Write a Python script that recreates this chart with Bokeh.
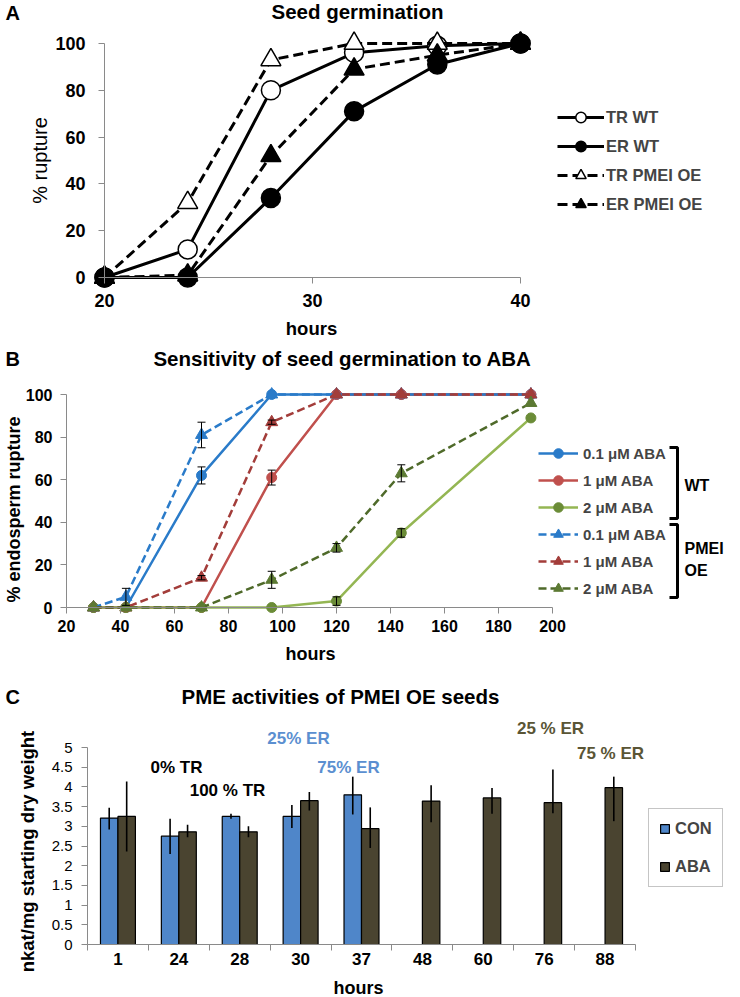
import math
from bokeh.plotting import figure
from bokeh.layouts import column
from bokeh.models import (Range1d, LinearAxis, FixedTicker, Legend, LegendItem, Label,
                          ColumnDataSource, Whisker, TeeHead)
from bokeh.embed import file_html
from bokeh.resources import INLINE

FONT = "Liberation Sans"
W = 740
NAN = float("nan")

# ---------------- Panel A data ----------------
a_hours = [20, 24, 28, 32, 36, 40]
a_tr_wt = [0, 12, 80, 96, 99, 100]
a_er_wt = [0, 0, 34, 71, 91, 100]
a_tr_oe = [0, 32, 93, 100, 100, 100]
a_er_oe = [0, 1, 52, 89, 95, 100]
a_xticks = [20, 30, 40]
a_yticks = [0, 20, 40, 60, 80, 100]

# ---------------- Panel B data ----------------
b_hours = [30, 42, 70, 96, 120, 144, 192]
b_wt_01 = [0, 0, 62, 100, 100, 100, 100]
b_wt_1 = [0, 0, 0, 61, 100, 100, 100]
b_wt_2 = [0, 0, 0, 0, 3, 35, 89]
b_oe_01 = [0, 5, 81, 100, 100, 100, 100]
b_oe_1 = [0, 0, 14, 87, 100, 100, 100]
b_oe_2 = [0, 0, 0, 13, 28, 63, 96]
b_err_wt_01 = [0, 0, 4, 0, 0, 0, 0]
b_err_wt_1 = [0, 0, 0, 3.5, 0, 0, 0]
b_err_wt_2 = [0, 0, 0, 0, 2, 2, 0]
b_err_oe_01 = [0, 4, 6, 0, 0, 0, 0]
b_err_oe_1 = [0, 0, 1, 1, 0, 0, 0]
b_err_oe_2 = [0, 0, 0, 4, 2, 4, 0]
b_xticks = [20, 40, 60, 80, 100, 120, 140, 160, 180, 200]
b_yticks = [0, 20, 40, 60, 80, 100]

# ---------------- Panel C data ----------------
c_hours = ["1", "24", "28", "30", "37", "48", "60", "76", "88"]
c_con = [3.21, 2.75, 3.25, 3.25, 3.80, NAN, NAN, NAN, NAN]
c_con_lo = [2.92, 2.30, 3.19, 2.96, 3.30, NAN, NAN, NAN, NAN]
c_con_hi = [3.47, 3.19, 3.32, 3.54, 4.26, NAN, NAN, NAN, NAN]
c_aba = [3.25, 2.86, 2.86, 3.65, 2.94, 3.64, 3.72, 3.60, 3.98]
c_aba_lo = [2.36, 2.72, 2.72, 3.40, 2.45, 3.10, 3.32, 3.33, 3.13]
c_aba_hi = [4.14, 3.04, 3.00, 3.87, 3.48, 4.04, 3.97, 4.44, 4.26]
c_yticks = [0, 0.5, 1, 1.5, 2, 2.5, 3, 3.5, 4, 4.5, 5]
c_ytick_labels = ["0", "0.5", "1", "1.5", "2", "2.5", "3", "3.5", "4", "4.5", "5"]

AXIS_GRAY = "#8a8a8a"


def make_fig(page_top, height, x0v, x0p, x1v, x1p, y0v, y0p, y1v, y1p):
    """Figure whose frame fills the whole canvas; values map to page pixels."""
    kx = (x1v - x0v) / (x1p - x0p)
    xmin = x0v - x0p * kx
    xmax = xmin + W * kx
    ky = (y1v - y0v) / (y0p - y1p)
    ymax = y1v + (y1p - page_top) * ky
    ymin = ymax - height * ky
    p = figure(width=W, height=height, x_range=Range1d(xmin, xmax),
               y_range=Range1d(ymin, ymax), output_backend="svg",
               toolbar_location=None, min_border=0, x_axis_type=None,
               y_axis_type=None, outline_line_color=None,
               background_fill_color="white", border_fill_color="white")

    def X(px):
        return xmin + px * kx

    def Y(py):
        return ymax - (py - page_top) * ky
    return p, X, Y


def add_axis(p, side, loc, bounds, ticker, size, style="bold", standoff=8,
             tick_out=6, minor_out=0, overrides=None, line=True):
    ax = LinearAxis(fixed_location=loc, bounds=bounds, ticker=ticker,
                    axis_line_color=AXIS_GRAY if line else None, axis_line_width=1,
                    major_tick_line_color=AXIS_GRAY if tick_out else None,
                    major_tick_out=tick_out, major_tick_in=0,
                    minor_tick_line_color=AXIS_GRAY if minor_out else None,
                    minor_tick_out=minor_out, minor_tick_in=0,
                    major_label_text_font=FONT, major_label_text_font_size=size,
                    major_label_text_font_style=style, major_label_text_color="black",
                    major_label_standoff=standoff)
    if overrides is not None:
        ax.major_label_overrides = overrides
    p.add_layout(ax, side)
    return ax


def lab(p, x, y, text, size, style="bold", align="center", angle=0, color="black"):
    p.add_layout(Label(x=x, y=y, text=text, text_font=FONT, text_font_size=size,
                       text_font_style=style, text_align=align, text_baseline="middle",
                       angle=angle, text_color=color))


# ======================= Panel A =======================
A_TOP, A_H = 0, 340
pa, XA, YA = make_fig(A_TOP, A_H, 20, 104, 40, 520, 0, 277, 100, 43)
add_axis(pa, "left", 20, (0, 100), FixedTicker(ticks=a_yticks), "18px", standoff=13)
add_axis(pa, "below", 0, (20, 40), FixedTicker(ticks=a_xticks), "18px", standoff=10)

a_items = []
a_specs = [("TR WT", a_tr_wt, "circle", "white", "solid"),
           ("ER WT", a_er_wt, "circle", "black", "solid"),
           ("TR PMEI OE", a_tr_oe, "triangle", "white", "10 5"),
           ("ER PMEI OE", a_er_oe, "triangle", "black", "10 5")]
for name, vals, mk, fill, dash in a_specs:
    src = ColumnDataSource(dict(x=a_hours, y=vals))
    ln = pa.line("x", "y", source=src, line_color="black", line_width=3, line_dash=dash)
    sc = pa.scatter("x", "y", source=src, marker=mk, size=19 if mk == "circle" else 20,
                    fill_color=fill, line_color="black", line_width=1.5)
    a_items.append(LegendItem(label=name, renderers=[ln, sc]))

leg_a = Legend(items=a_items, location=(557, A_TOP + A_H - 217),
               glyph_width=47, glyph_height=26, label_height=26, spacing=3,
               padding=0, margin=0, border_line_color=None, background_fill_alpha=0,
               label_text_font=FONT, label_text_font_style="bold",
               label_text_font_size="16.5px", label_standoff=2)
pa.add_layout(leg_a)

lab(pa, XA(5), YA(12), "A", "20px", align="left")
lab(pa, XA(357), YA(11), "Seed germination", "20.5px")
lab(pa, XA(39), YA(160), "% rupture", "20px", style="normal", angle=math.pi / 2)
lab(pa, XA(311), YA(328), "hours", "18.5px")

# ======================= Panel B =======================
B_TOP, B_H = 340, 332
pb, XB, YB = make_fig(B_TOP, B_H, 20, 66, 200, 552, 0, 607, 100, 394)
add_axis(pb, "left", 20, (0, 100), FixedTicker(ticks=b_yticks), "16px", standoff=8)
add_axis(pb, "below", 0, (20, 200), FixedTicker(ticks=b_xticks), "16px", standoff=6)

BLUE, RED, RED_D = "#2A7BC9", "#C0504D", "#A33D3A"
GRN, GRN_M, GRN_D, GRN_DM = "#94B653", "#6B8C37", "#4F6A2A", "#5C7A33"
b_specs = [("0.1 μM ABA", b_wt_01, b_err_wt_01, BLUE, BLUE, "circle", "solid"),
           ("1 μM ABA", b_wt_1, b_err_wt_1, RED, RED, "circle", "solid"),
           ("2 μM ABA", b_wt_2, b_err_wt_2, GRN, GRN_M, "circle", "solid"),
           ("0.1 μM ABA", b_oe_01, b_err_oe_01, BLUE, BLUE, "triangle", "8 4"),
           ("1 μM ABA", b_oe_1, b_err_oe_1, RED_D, RED_D, "triangle", "8 4"),
           ("2 μM ABA", b_oe_2, b_err_oe_2, GRN_D, GRN_DM, "triangle", "8 4")]
b_items = []
eb_x, eb_lo, eb_hi = [], [], []
for name, vals, errs, lc, mc, mk, dash in b_specs:
    src = ColumnDataSource(dict(x=b_hours, y=vals))
    ln = pb.line("x", "y", source=src, line_color=lc, line_width=2.5, line_dash=dash)
    sc = pb.scatter("x", "y", source=src, marker=mk, size=10 if mk == "circle" else 12,
                    fill_color=mc, line_color=mc, line_width=1)
    b_items.append(LegendItem(label=name, renderers=[ln, sc]))
    for h, v, e in zip(b_hours, vals, errs):
        if e > 0:
            eb_x.append(h)
            eb_lo.append(v - e)
            eb_hi.append(v + e)

wsrc = ColumnDataSource(dict(base=eb_x, lower=eb_lo, upper=eb_hi))
pb.add_layout(Whisker(source=wsrc, base="base", lower="lower", upper="upper",
                      line_color="black", line_width=1, level="overlay",
                      upper_head=TeeHead(size=8, line_color="black", line_width=1),
                      lower_head=TeeHead(size=8, line_color="black", line_width=1)))

leg_b = Legend(items=b_items, location=(538, B_TOP + B_H - 600),
               glyph_width=40, glyph_height=24, label_height=24, spacing=3,
               padding=0, margin=0, border_line_color=None, background_fill_alpha=0,
               label_text_font=FONT, label_text_font_style="bold",
               label_text_font_size="15px", label_standoff=5)
pb.add_layout(leg_b)

# brackets grouping the legend entries
pb.multi_line(xs=[[XB(669), XB(677), XB(677), XB(669)], [XB(669), XB(677), XB(677), XB(669)]],
              ys=[[YB(447), YB(447), YB(518), YB(518)], [YB(524), YB(524), YB(597), YB(597)]],
              line_color="black", line_width=3)
lab(pb, XB(684), YB(485), "WT", "16px", align="left")
lab(pb, XB(684), YB(548), "PMEI", "16px", align="left")
lab(pb, XB(684), YB(570), "OE", "16px", align="left")

lab(pb, XB(5), YB(358), "B", "20px", align="left")
lab(pb, XB(342), YB(358), "Sensitivity of seed germination to ABA", "20.5px")
lab(pb, XB(13), YB(509), "% endosperm rupture", "18px", angle=math.pi / 2)
lab(pb, XB(310), YB(653), "hours", "18px")

# ======================= Panel C =======================
C_TOP, C_H = 672, 324
pc, XC, YC = make_fig(C_TOP, C_H, 0, 87, 9, 635, 0, 944, 5, 747)
add_axis(pc, "left", 0, (0, 5), FixedTicker(ticks=c_yticks), "15px", style="normal",
         standoff=9, overrides={t: s for t, s in zip(c_yticks, c_ytick_labels)})
n = len(c_hours)
centers = [i + 0.5 for i in range(n)]
add_axis(pc, "below", 0, (0, n), FixedTicker(ticks=centers, minor_ticks=list(range(n + 1))),
         "17px", standoff=2, tick_out=0, minor_out=6,
         overrides={c: h for c, h in zip(centers, c_hours)})

BW = 0.287
CON_C, ABA_C = "#4F86C9", "#4A4430"
con_idx = [i for i, v in enumerate(c_con) if not math.isnan(v)]
con_src = ColumnDataSource(dict(x=[centers[i] - BW / 2 for i in con_idx],
                                top=[c_con[i] for i in con_idx],
                                lo=[c_con_lo[i] for i in con_idx],
                                hi=[c_con_hi[i] for i in con_idx]))
aba_src = ColumnDataSource(dict(x=[c + BW / 2 for c in centers], top=c_aba,
                                lo=c_aba_lo, hi=c_aba_hi))
r_con = pc.vbar(x="x", top="top", bottom=0, width=BW, source=con_src,
                fill_color=CON_C, line_color="black", line_width=1.2)
r_aba = pc.vbar(x="x", top="top", bottom=0, width=BW, source=aba_src,
                fill_color=ABA_C, line_color="black", line_width=1.2)
pc.segment(x0="x", y0="lo", x1="x", y1="hi", source=con_src, line_color="black", line_width=1.6)
pc.segment(x0="x", y0="lo", x1="x", y1="hi", source=aba_src, line_color="black", line_width=1.6)

leg_c = Legend(items=[LegendItem(label="CON", renderers=[r_con]),
                      LegendItem(label="ABA", renderers=[r_aba])],
               location=(648, C_TOP + C_H - 887),
               glyph_width=11, glyph_height=11, label_height=18, spacing=19,
               padding=10, margin=0, border_line_color="#8c8c8c", border_line_width=1,
               background_fill_color="white", background_fill_alpha=1,
               label_text_font=FONT, label_text_font_style="bold",
               label_text_font_size="16.5px", label_standoff=5)
pc.add_layout(leg_c)

lab(pc, XC(5), YC(696), "C", "20px", align="left")
lab(pc, XC(340), YC(696), "PME activities of PMEI OE seeds", "20.5px")
lab(pc, XC(27), YC(851), "nkat/mg starting dry weight", "18.5px", angle=math.pi / 2)
lab(pc, XC(358), YC(987), "hours", "18px")
BLUE_T, OLIVE_T = "#5B8FD0", "#5A5535"
lab(pc, XC(176), YC(767), "0% TR", "17px")
lab(pc, XC(227), YC(790), "100 % TR", "17px")
lab(pc, XC(298), YC(738), "25% ER", "17px", color=BLUE_T)
lab(pc, XC(348), YC(767), "75% ER", "17px", color=BLUE_T)
lab(pc, XC(550), YC(728), "25 % ER", "17px", color=OLIVE_T)
lab(pc, XC(610), YC(753), "75 % ER", "17px", color=OLIVE_T)

layout = column(pa, pb, pc, spacing=0)
open("out.html", "w").write(file_html(layout, INLINE))
